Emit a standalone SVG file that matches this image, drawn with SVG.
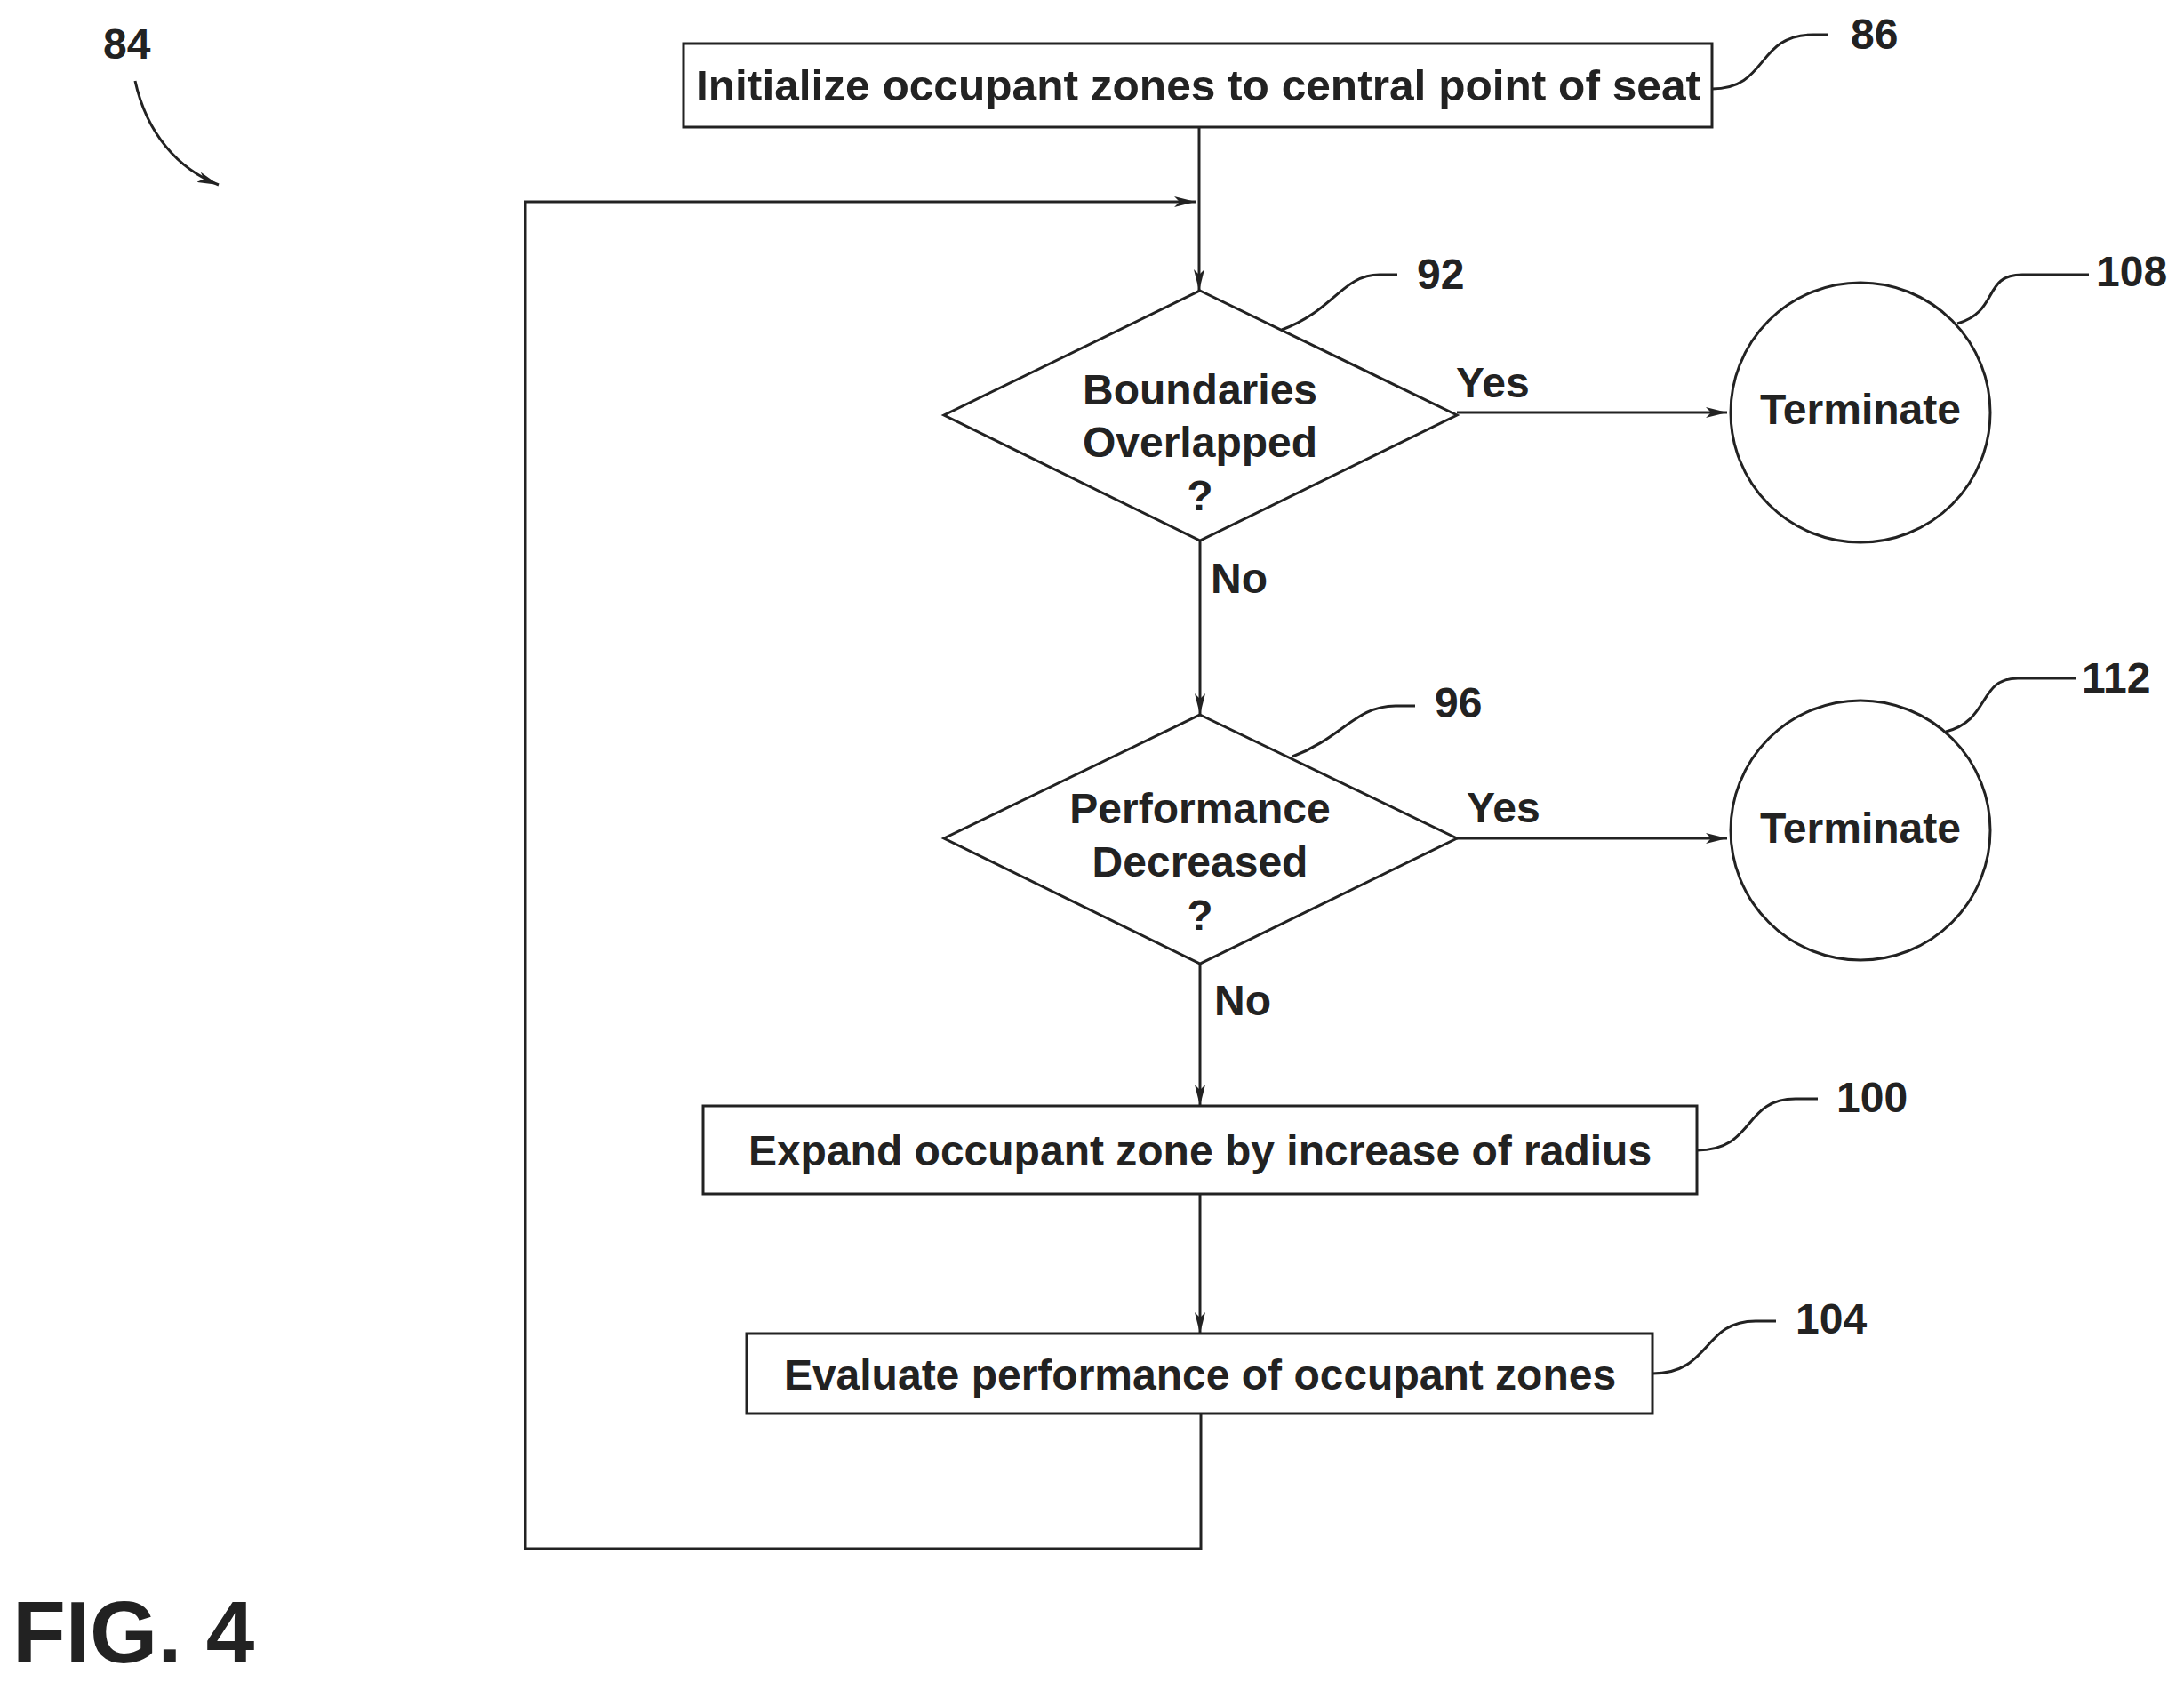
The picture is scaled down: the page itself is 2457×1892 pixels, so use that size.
<svg xmlns="http://www.w3.org/2000/svg" width="2457" height="1892" viewBox="0 0 2457 1892">
<style>
.s{fill:#fff;stroke:#222;stroke-width:3}
.l{fill:none;stroke:#222;stroke-width:3}
text{font-family:"Liberation Sans",Arial,sans-serif;font-weight:bold;font-size:48px;fill:#222}
.c{text-anchor:middle}
</style>
<defs><marker id="a" markerWidth="24" markerHeight="12" refX="24" refY="6" orient="auto" markerUnits="userSpaceOnUse"><path d="M0,0 L24,6 L0,12 L6,6 Z" fill="#222"/></marker></defs>
<rect width="2457" height="1892" fill="#fff"/>
<g id="connectors">
<path class="l" d="M1349,143 V327" marker-end="url(#a)"/>
<path class="l" d="M1351,1590 V1742 H591 V227 H1345" marker-end="url(#a)"/>
<path class="l" d="M1350,608 V804" marker-end="url(#a)"/>
<path class="l" d="M1350,1084 V1244" marker-end="url(#a)"/>
<path class="l" d="M1350,1343 V1500" marker-end="url(#a)"/>
<path class="l" d="M1639,464 H1943" marker-end="url(#a)"/>
<path class="l" d="M1639,943 H1943" marker-end="url(#a)"/>
<text x="1638" y="447">Yes</text>
<text x="1650" y="925">Yes</text>
<text x="1362" y="667">No</text>
<text x="1366" y="1142">No</text>
<path class="l" d="M1926,100 C1990,100 1975,39 2040,39 H2057"/>
<path class="l" d="M1442,371 C1500,350 1510,309 1552,309 H1572"/>
<path class="l" d="M1454,851 C1510,830 1525,794 1570,794 H1592"/>
<path class="l" d="M2202,364 C2250,350 2230,309 2275,309 H2350"/>
<path class="l" d="M2189,823 C2240,810 2225,763 2270,763 H2335"/>
<path class="l" d="M1909,1294 C1975,1294 1960,1236 2020,1236 H2045"/>
<path class="l" d="M1859,1545 C1925,1545 1915,1486 1975,1486 H1998"/>
<path class="l" d="M152,91 C165,150 200,190 246,208" marker-end="url(#a)"/>
</g>
<g id="n86"><rect class="s" x="769" y="49" width="1157" height="94"/><text class="c" x="1348" y="113" textLength="1130" lengthAdjust="spacingAndGlyphs">Initialize occupant zones to central point of seat</text><text x="2082" y="55">86</text></g>
<g id="n92"><polygon class="s" points="1350,327 1639,467 1350,608 1062,467"/><text class="c" x="1350" y="455">Boundaries</text><text class="c" x="1350" y="514">Overlapped</text><text class="c" x="1350" y="574">?</text><text x="1594" y="325">92</text></g>
<g id="n108"><circle class="s" cx="2093" cy="464" r="146"/><text class="c" x="2093" y="477">Terminate</text><text x="2358" y="322">108</text></g>
<g id="n96"><polygon class="s" points="1350,804 1639,943 1350,1084 1062,943"/><text class="c" x="1350" y="926">Performance</text><text class="c" x="1350" y="986">Decreased</text><text class="c" x="1350" y="1046">?</text><text x="1614" y="807">96</text></g>
<g id="n112"><circle class="s" cx="2093" cy="934" r="146"/><text class="c" x="2093" y="948">Terminate</text><text x="2342" y="779">112</text></g>
<g id="n100"><rect class="s" x="791" y="1244" width="1118" height="99"/><text class="c" x="1350" y="1311">Expand occupant zone by increase of radius</text><text x="2066" y="1251">100</text></g>
<g id="n104"><rect class="s" x="840" y="1500" width="1019" height="90"/><text class="c" x="1350" y="1563">Evaluate performance of occupant zones</text><text x="2020" y="1500">104</text></g>
<text x="116" y="66">84</text>
<text x="14" y="1870" style="font-size:98px">FIG. 4</text>
</svg>
